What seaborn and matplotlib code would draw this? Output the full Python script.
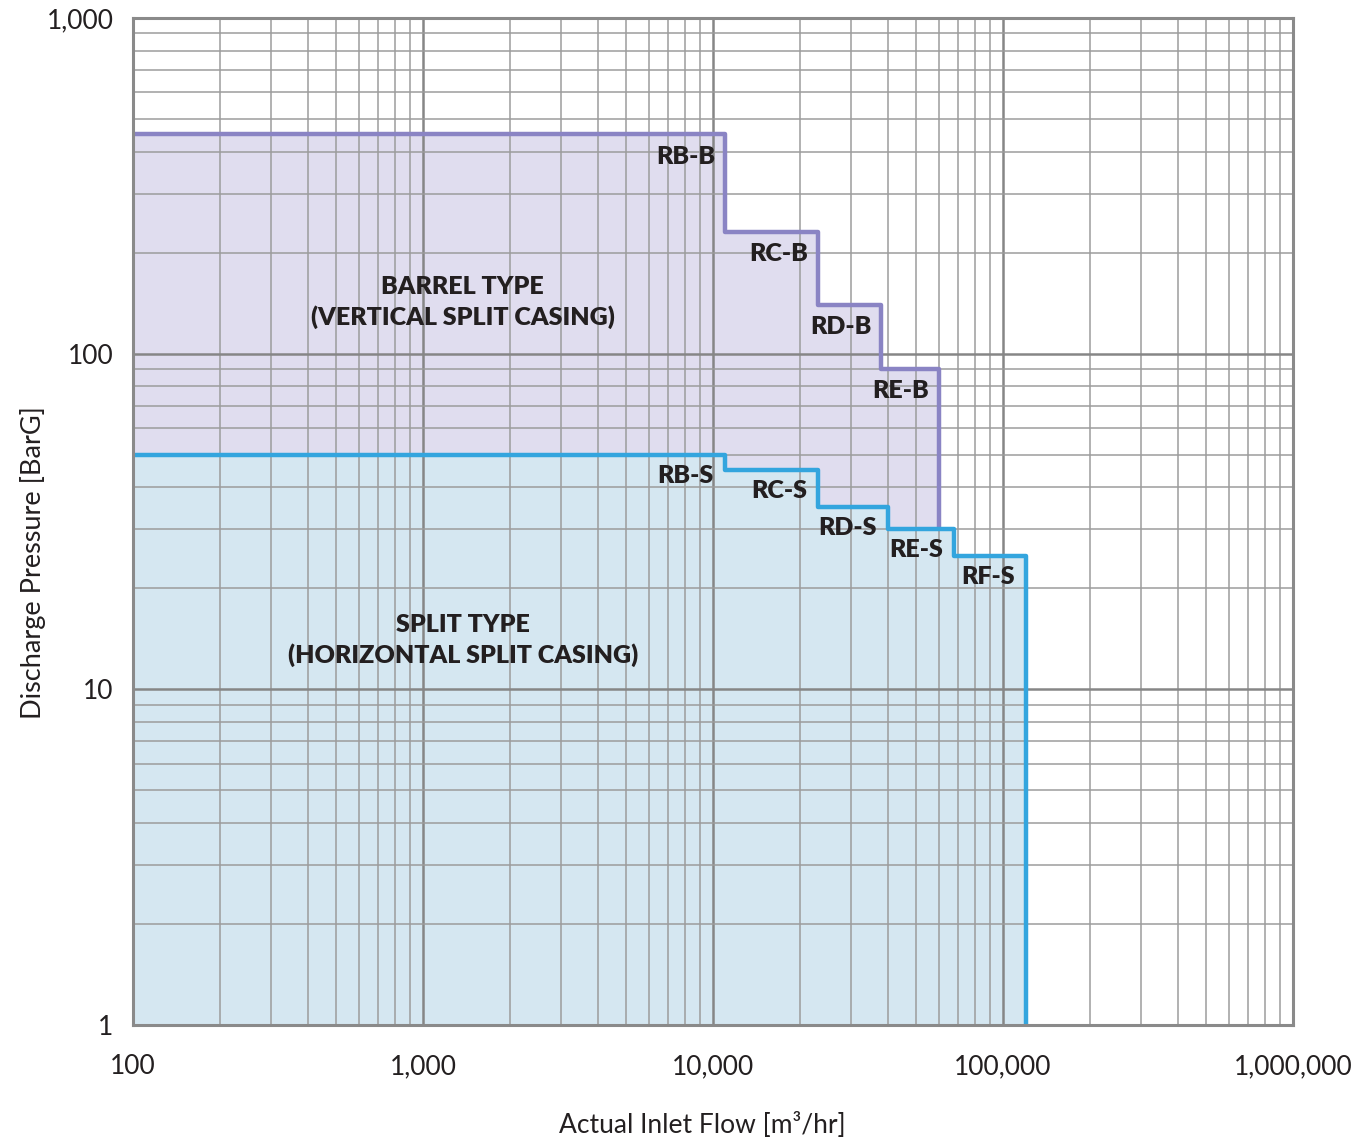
import numpy as np
import matplotlib
matplotlib.use("Agg")
import matplotlib.pyplot as plt
import matplotlib.ticker as mticker
import seaborn as sns

# barrel type (vertical split casing) envelope
barrel_edges = [100, 11000, 23000, 38000, 60000]
barrel_levels = [450, 230, 140, 90]
barrel_floor = 30
barrel_names = ["RB-B", "RC-B", "RD-B", "RE-B"]

# split type (horizontal split casing) envelope
split_edges = [100, 11000, 23000, 40000, 68000, 120000]
split_levels = [50, 45, 35, 30, 25]
split_floor = 1
split_names = ["RB-S", "RC-S", "RD-S", "RE-S", "RF-S"]

x_ticks = [100, 1000, 10000, 100000, 1000000]
y_ticks = [1, 10, 100, 1000]


def step_path(edges, levels, floor):
    # vertices for a steps-post line ending with a drop to the floor
    xs = list(edges) + [edges[-1]]
    ys = list(levels) + [levels[-1], floor]
    return np.array(xs, float), np.array(ys, float)


sns.set_theme(style="white")
plt.rcParams["font.family"] = ["Lato", "DejaVu Sans"]

fig = plt.figure(figsize=(13.54, 11.40), dpi=100)
ax = fig.add_axes([0.0982, 0.1009, 0.8568, 0.8833])
ax.set_xscale("log")
ax.set_yscale("log")
ax.set_xlim(100, 1e6)
ax.set_ylim(1, 1000)

purple_line = "#8a84c4"
purple_fill = "#e0ddef"
blue_line = "#33a5de"
blue_fill = "#d5e7f1"

bx, by = step_path(barrel_edges, barrel_levels, barrel_floor)
sx, sy = step_path(split_edges, split_levels, split_floor)

ax.fill_between(bx, by, 1, step="post", color=purple_fill, lw=0, zorder=0.2)
ax.fill_between(sx, sy, 1, step="post", color=blue_fill, lw=0, zorder=0.3)

sns.lineplot(x=bx, y=by, ax=ax, drawstyle="steps-post", sort=False,
             estimator=None, color=purple_line, lw=3.2, zorder=4)
sns.lineplot(x=sx, y=sy, ax=ax, drawstyle="steps-post", sort=False,
             estimator=None, color=blue_line, lw=3.2, zorder=5)

# grid
ax.xaxis.set_major_locator(mticker.FixedLocator(x_ticks))
ax.yaxis.set_major_locator(mticker.FixedLocator(y_ticks))
ax.xaxis.set_minor_locator(mticker.LogLocator(base=10, subs=np.arange(2, 10)))
ax.yaxis.set_minor_locator(mticker.LogLocator(base=10, subs=np.arange(2, 10)))
ax.xaxis.set_minor_formatter(mticker.NullFormatter())
ax.yaxis.set_minor_formatter(mticker.NullFormatter())
fmt = mticker.FuncFormatter(lambda v, p: f"{int(round(v)):,}")
ax.xaxis.set_major_formatter(fmt)
ax.yaxis.set_major_formatter(fmt)
ax.grid(True, which="major", color="#868686", lw=1.8)
ax.grid(True, which="minor", color="#9c9c9c", lw=1.1)
for gl in ax.get_xgridlines() + ax.get_ygridlines():
    gl.set_zorder(1)
for t in ax.xaxis.get_minor_ticks() + ax.yaxis.get_minor_ticks():
    t.gridline.set_zorder(1)

ax.tick_params(which="both", length=0, labelsize=19, colors="#231f20")
ax.tick_params(axis="x", pad=21)
ax.tick_params(axis="y", pad=14)
for s in ax.spines.values():
    s.set_color("#8a8a8a")
    s.set_linewidth(2.2)
    s.set_zorder(6)

ax.set_xlabel("Actual Inlet Flow [m³/hr]", fontsize=19, color="#231f20", va="center")
ax.set_ylabel("Discharge Pressure [BarG]", fontsize=19.5, color="#231f20", va="center")
ax.xaxis.set_label_coords(0.491, -0.099)
ax.yaxis.set_label_coords(-0.086, 0.459)

lab = dict(fontsize=18, fontweight="heavy", color="#231f20", ha="right", va="center",
           textcoords="offset points", zorder=7)
for name, x, y in zip(barrel_names, barrel_edges[1:], barrel_levels):
    ax.annotate(name, (x, y), xytext=(-7, -16), **lab)
for name, x, y in zip(split_names, split_edges[1:], split_levels):
    ax.annotate(name, (x, y), xytext=(-8, -15), **lab)

ax.text(1370, 142, "BARREL TYPE\n(VERTICAL SPLIT CASING)", fontsize=18, fontweight="heavy",
        color="#231f20", ha="center", va="center", linespacing=1.4, zorder=7)
ax.text(1370, 14.0, "SPLIT TYPE\n(HORIZONTAL SPLIT CASING)", fontsize=18, fontweight="heavy",
        color="#231f20", ha="center", va="center", linespacing=1.4, zorder=7)

fig.savefig("out.png", dpi=100)
